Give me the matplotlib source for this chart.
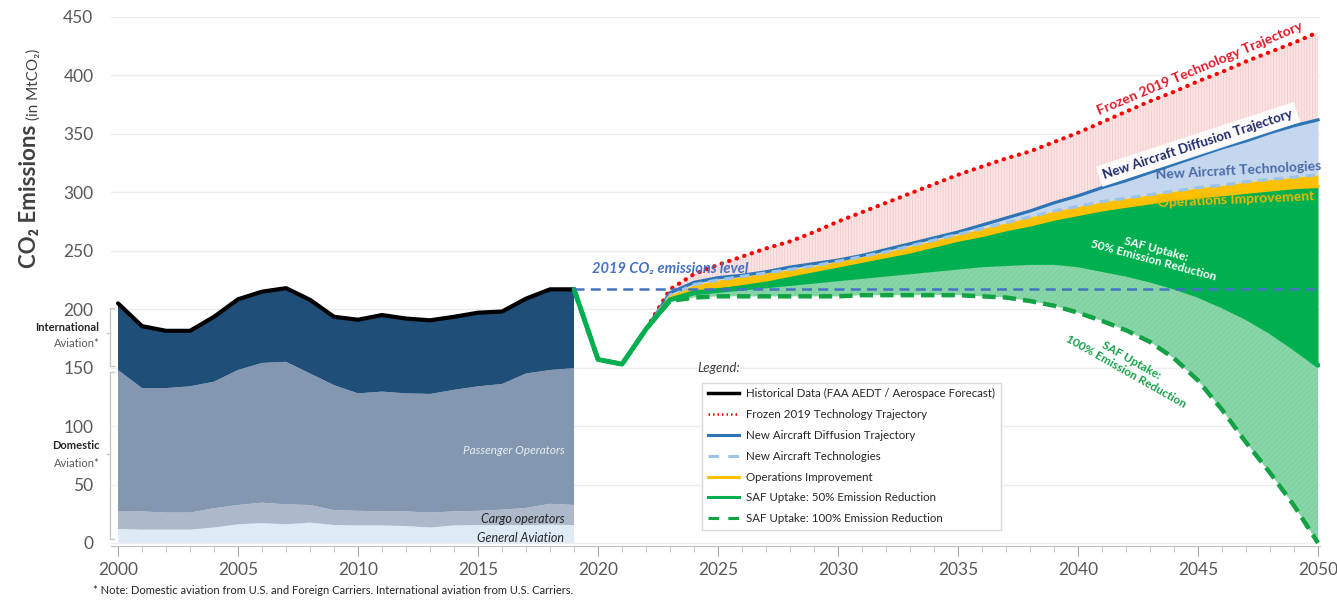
import numpy as np
import matplotlib.pyplot as plt
from matplotlib.lines import Line2D

plt.rcParams['font.family'] = ['Lato', 'DejaVu Sans']
plt.rcParams['hatch.linewidth'] = 0.6

# historical data 2000-2019, stacked layers (MtCO2)
hist_years = np.arange(2000, 2020)
general = [12, 11.4, 11.4, 11.4, 13.2, 16, 17, 16, 17.4, 15.3,
           15, 15, 14.5, 13.2, 15, 15.3, 15.3, 15.3, 15.7, 15.3]
cargo = [14.8, 15.6, 14.6, 14.6, 16.5, 16.5, 17.5, 17, 15.1, 12.7,
         12.5, 12, 12.5, 12.8, 12, 12.2, 13.2, 14.7, 17.8, 17.2]
passenger = [121.2, 105.5, 106.5, 108, 108.3, 115.5, 119.5, 122, 112.5, 107,
             100.5, 102.5, 101, 101.5, 104, 106.5, 107.5, 115, 114.5, 117]
international = [57, 53, 49, 47.5, 55.5, 60.5, 61, 63, 63, 58.5,
                 63, 65.5, 64, 63, 62.5, 63, 62, 64, 69, 67.5]

# projections 2019-2050
proj_years = np.arange(2019, 2051)
covid = [217, 157, 153, 183]
frozen = covid + [217, 230, 238, 245, 252, 258, 266, 275, 283, 291, 299, 307, 315, 322,
                  329, 335, 343, 351, 360, 369, 378, 386, 395, 403, 412, 420, 428, 437]
diffusion = covid + [214, 223, 227, 229, 232, 236, 239, 242, 246, 251, 256, 261, 266, 272,
                     278, 284, 291, 297, 304, 310, 317, 324, 331, 338, 344, 351, 357, 362]
new_tech = covid + [212, 221, 225, 228, 231, 234, 237, 241, 245, 249, 254, 259, 264, 269,
                    274, 279, 284, 288, 292, 295, 298, 301, 304, 306, 309, 311, 313, 315]
ops = covid + [210, 216, 219, 222, 225, 229, 233, 237, 241, 245, 249, 254, 259, 263,
               268, 272, 277, 281, 285, 288, 291, 294, 296, 298, 300, 302, 304, 305]
saf50 = covid + [208, 214, 216, 218, 220, 222, 224, 226, 228, 230, 232, 234, 236, 238,
                 239, 240, 240, 238, 234, 230, 225, 219, 212, 203, 193, 181, 167, 152]
saf100 = covid + [207, 210, 211, 211, 211, 211, 211, 211, 212, 212, 212, 212, 212, 211,
                  210, 207, 203, 197, 190, 182, 172, 158, 139, 114, 86, 60, 32, 0]
level_2019 = 217

fig = plt.figure(figsize=(13.37, 6), dpi=100)
ax = fig.add_axes([0.0829, 0.0892, 0.9047, 0.8825])

# historical stack
ax.stackplot(hist_years, general, cargo, passenger, international,
             colors=['#deebf7', '#adb9ca', '#8497b0', '#1f4e79'], lw=0, zorder=2)
total = np.sum([general, cargo, passenger, international], axis=0)
ax.plot(hist_years, total, color='black', lw=3, zorder=6, solid_capstyle='round')

# projection wedges
ax.fill_between(proj_years, diffusion, frozen, facecolor='#fbe4e4', edgecolor='#f4cccc',
                hatch='||||||', lw=0, zorder=1)
ax.fill_between(proj_years, new_tech, diffusion, color='#c5d7ef', lw=0, zorder=2)
ax.fill_between(proj_years, ops, new_tech, color='#ffc000', lw=0, zorder=2)
ax.fill_between(proj_years, saf50, ops, color='#00b050', lw=0, zorder=2)
ax.fill_between(proj_years, saf100, saf50, facecolor='#88d6a8', edgecolor='#7ccf9e',
                hatch='//////', lw=0, zorder=2)

ax.plot(proj_years, frozen, color='#ff0000', lw=3, linestyle=(0, (0.1, 1.8)),
        dash_capstyle='round', zorder=4)
ax.plot(proj_years, diffusion, color='#2e75b6', lw=2.3, zorder=5)
ax.plot(proj_years, new_tech, color='#9dc3e6', lw=2.3, linestyle=(0, (3, 2)), zorder=5)
ax.plot(proj_years, ops, color='#ffc000', lw=2.3, zorder=5)
ax.plot(proj_years, saf100, color='#11a243', lw=3.2, linestyle=(0, (3, 1.6)), zorder=5)
ax.plot(proj_years, saf50, color='#00b050', lw=3.5, zorder=6, solid_capstyle='round')
ax.plot([2019, 2050.1], [level_2019, level_2019], color='#4472c4', lw=1.8,
        linestyle=(0, (4, 2.5)), zorder=7)

# axes styling
ax.set_xlim(1999.7, 2050.1)
ax.set_ylim(-3, 450)
ax.set_yticks(np.arange(0, 451, 50))
ax.set_xticks(np.arange(2000, 2051, 5))
ax.set_xticks(np.arange(2000, 2051, 1), minor=True)
for s in ['left', 'top', 'right']:
    ax.spines[s].set_visible(False)
ax.spines['bottom'].set_color('#bfbfbf')
ax.tick_params(axis='y', length=0, pad=12.5, labelsize=12.5, labelcolor='#595959')
ax.tick_params(axis='x', which='major', length=7, color='#a6a6a6', labelsize=12.5,
               labelcolor='#595959', pad=4)
ax.tick_params(axis='x', which='minor', length=4, color='#bfbfbf')
ax.yaxis.grid(True, color='#ededed', lw=1)
ax.set_axisbelow(True)

# left brackets
bx = 1999.67
ax.plot([bx + 0.15, bx, bx, bx + 0.15], [201, 201, 151, 151], color='#c8c8c8', lw=1,
        clip_on=False, zorder=3)
ax.plot([bx, bx - 0.15], [180, 180], color='#c8c8c8', lw=1, clip_on=False)
ax.plot([bx + 0.15, bx, bx, bx + 0.15], [146.5, 146.5, 3, 3], color='#c8c8c8', lw=1,
        clip_on=False, zorder=3)
ax.plot([bx, bx - 0.15], [76, 76], color='#c8c8c8', lw=1, clip_on=False)
ax.text(1999.23, 184.7, 'International', ha='right', va='center', fontsize=8,
        fontweight='bold', color='#262626')
ax.text(1999.23, 171, 'Aviation*', ha='right', va='center', fontsize=8, color='#595959')
ax.text(1999.23, 83, 'Domestic', ha='right', va='center', fontsize=8,
        fontweight='bold', color='#262626')
ax.text(1999.23, 68.2, 'Aviation*', ha='right', va='center', fontsize=8, color='#595959')

# y label: bold part, then smaller unit right after it
ylab = fig.text(0.0224, 0.553, 'CO\u2082 Emissions', rotation=90, ha='center', va='bottom',
                fontsize=16, fontweight='bold', color='#404040')
fig.canvas.draw()
bb = ylab.get_window_extent()
fig.text(0.0248, (bb.y1 + 5) / 600, '(in MtCO\u2082)', rotation=90, ha='center', va='bottom',
         fontsize=11, color='#404040')

# in-chart labels
ax.text(2018.6, 78.8, 'Passenger Operators', ha='right', va='center', fontsize=8.5,
        style='italic', color='#e9edf4', zorder=8)
ax.text(2018.6, 20.3, 'Cargo operators', ha='right', va='center', fontsize=9,
        style='italic', color='#262626', zorder=8)
ax.text(2018.6, 4.5, 'General Aviation', ha='right', va='center', fontsize=9,
        style='italic', color='#262626', zorder=8)
ax.text(2019.75, 234, '2019 CO\u2082 emissions level', ha='left', va='center', fontsize=10.5,
        style='italic', fontweight='bold', color='#4472c4', zorder=8)

ax.text(2045.1, 406, 'Frozen 2019 Technology Trajectory', rotation=22.8,
        rotation_mode='anchor', ha='center', va='center', fontsize=10,
        fontweight='bold', color='#e8182a', zorder=8)
ax.text(2045.0, 341, 'New Aircraft Diffusion Trajectory', rotation=18.1,
        rotation_mode='anchor', ha='center', va='center', fontsize=9.5,
        fontweight='bold', color='#1f2a6b', zorder=8,
        bbox=dict(boxstyle='square,pad=0.35', fc='white', ec='none', alpha=0.9))
ax.text(2046.7, 318.8, 'New Aircraft Technologies', rotation=3.1,
        rotation_mode='anchor', ha='center', va='center', fontsize=10,
        fontweight='bold', color='#4a6aa5', zorder=8)
ax.text(2046.6, 293.4, 'Operations Improvement', rotation=2.5,
        rotation_mode='anchor', ha='center', va='center', fontsize=10,
        fontweight='bold', color='#f2b700', zorder=8)
ax.text(2043.2, 246.5, 'SAF Uptake:\n50% Emission Reduction', rotation=-15,
        rotation_mode='anchor', ha='center', va='center', multialignment='center',
        fontsize=8.5, fontweight='bold', color='white', zorder=8, linespacing=1.1)
ax.text(2042.1, 151.5, 'SAF Uptake:\n100% Emission Reduction', rotation=-29.5,
        rotation_mode='anchor', ha='center', va='center', multialignment='center',
        fontsize=8.5, fontweight='bold', color='#18a04a', zorder=8, linespacing=1.1)

# legend
handles = [
    Line2D([0], [0], color='black', lw=2.5),
    Line2D([0], [0], color='#ff0000', lw=1.8, linestyle=(0, (0.6, 1.2))),
    Line2D([0], [0], color='#2e75b6', lw=2.2),
    Line2D([0], [0], color='#9dc3e6', lw=2.2, linestyle=(0, (3.5, 3))),
    Line2D([0], [0], color='#ffc000', lw=2.2),
    Line2D([0], [0], color='#00b050', lw=2.2),
    Line2D([0], [0], color='#11a243', lw=2.2, linestyle=(0, (3.5, 3))),
]
labels = ['Historical Data (FAA AEDT / Aerospace Forecast)',
          'Frozen 2019 Technology Trajectory',
          'New Aircraft Diffusion Trajectory',
          'New Aircraft Technologies',
          'Operations Improvement',
          'SAF Uptake: 50% Emission Reduction',
          'SAF Uptake: 100% Emission Reduction']
leg = fig.legend(handles, labels, loc='upper left', bbox_to_anchor=(0.521, 0.372),
                 frameon=True, fancybox=False, edgecolor='#d9d9d9', framealpha=1,
                 fontsize=8.3, handlelength=2.7, labelspacing=0.85, borderpad=0.5,
                 handletextpad=0.6, labelcolor='#262626')
leg.set_zorder(10)
fig.text(697 / 1337, 1 - 368 / 600, 'Legend:', style='italic', fontsize=9.5,
         color='#404040', va='center')

fig.text(93 / 1337, 1 - 590 / 600,
         '* Note: Domestic aviation from U.S. and Foreign Carriers. '
         'International aviation from U.S. Carriers.',
         fontsize=8, color='#262626', va='center')

fig.savefig('out.png', dpi=100)
